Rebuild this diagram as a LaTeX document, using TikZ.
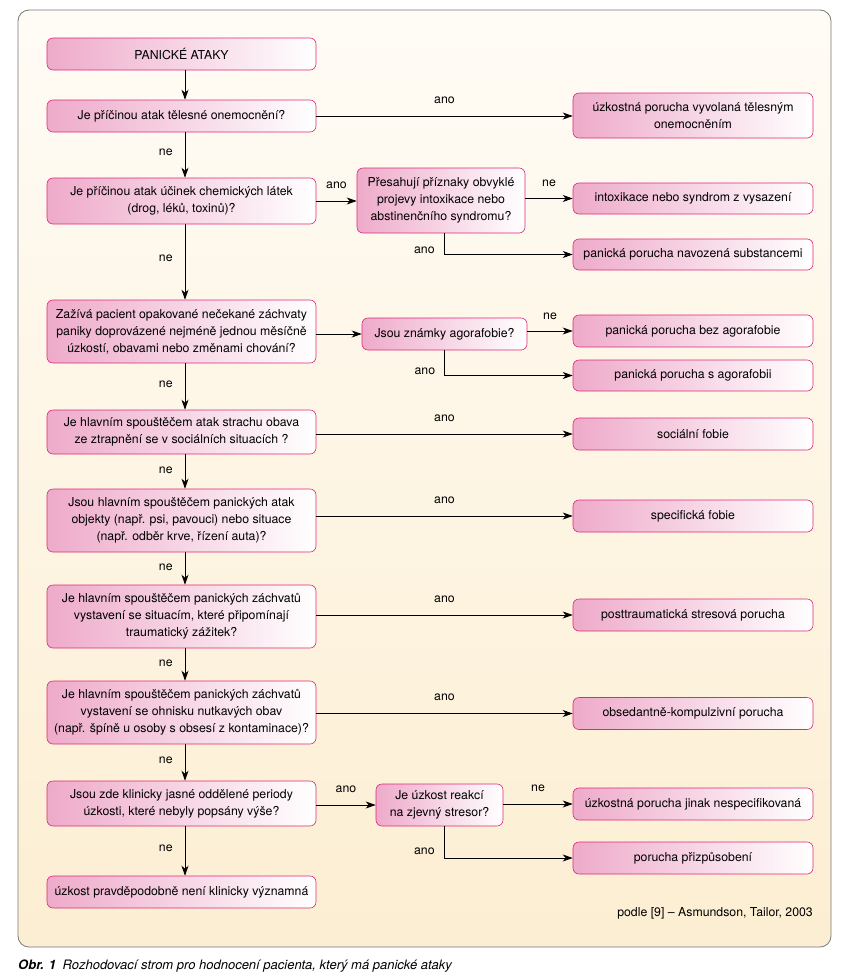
\documentclass[tikz,border=0pt]{standalone}
\usepackage{fontspec}
\setmainfont{TeX Gyre Heros}
\usetikzlibrary{arrows.meta,positioning}
\definecolor{boxpink}{RGB}{238,170,202}
\definecolor{boxline}{RGB}{222,40,120}
\definecolor{frametop}{RGB}{255,252,246}
\definecolor{framebot}{RGB}{252,238,210}
\definecolor{frameline}{RGB}{120,120,120}
\tikzset{
  box/.style={draw=boxline, line width=0.6pt, left color=boxpink, right color=white,
    rounded corners=6pt, align=center, inner sep=0pt,
    font={\fontsize{12.3pt}{17pt}\selectfont}},
  lbox/.style={box, minimum width=269pt},
  rbox/.style={box, minimum width=240pt},
  arr/.style={-{Stealth[length=10pt,width=7pt,inset=3pt]}, line width=0.8pt, black},
  lbl/.style={font={\fontsize{12.3pt}{15pt}\selectfont}, inner sep=0pt},
}
\begin{document}
\begin{tikzpicture}[x=1pt,y=-1pt]
\useasboundingbox (0,0) rectangle (855,980);
\fill[white] (0,0) rectangle (855,980);
\draw[frameline, line width=0.8pt, top color=frametop, bottom color=framebot, rounded corners=11pt]
  (18,10) rectangle (831,947);

% left column
\node[lbox, minimum height=32pt] (b1) at (181.5,54) {PANICKÉ ATAKY};
\node[lbox, minimum height=32pt] (b2) at (181.5,116) {Je příčinou atak tělesné onemocnění?};
\node[lbox, minimum height=46pt] (b3) at (181.5,201) {Je příčinou atak účinek chemických látek\\(drog, léků, toxinů)?};
\node[lbox, minimum height=63pt] (b4) at (181.5,331.5) {Zažívá pacient opakované nečekané záchvaty\\paniky doprovázené nejméně jednou měsíčně\\úzkostí, obavami nebo změnami chování?};
\node[lbox, minimum height=44pt] (b5) at (181.5,432) {Je hlavním spouštěčem atak strachu obava\\ze ztrapnění se v sociálních situacích ?};
\node[lbox, minimum height=63pt] (b6) at (181.5,520.5) {Jsou hlavním spouštěčem panických atak\\objekty (např. psi, pavouci) nebo situace\\(např. odběr krve, řízení auta)?};
\node[lbox, minimum height=63pt] (b7) at (181.5,616.5) {Je hlavním spouštěčem panických záchvatů\\vystavení se situacím, které připomínají\\traumatický zážitek?};
\node[lbox, minimum height=63pt] (b8) at (181.5,712.5) {Je hlavním spouštěčem panických záchvatů\\vystavení se ohnisku nutkavých obav\\(např. špíně u osoby s obsesí z kontaminace)?};
\node[lbox, minimum height=45pt] (b9) at (181.5,803.5) {Jsou zde klinicky jasné oddělené periody\\úzkosti, které nebyly popsány výše?};
\node[lbox, minimum height=32pt] (b10) at (181.5,892) {úzkost pravděpodobně není klinicky významná};

% middle column
\node[box, minimum width=168pt, minimum height=65pt] (m1) at (441,200.5) {Přesahují příznaky obvyklé\\projevy intoxikace nebo\\abstinenčního syndromu?};
\node[box, minimum width=165pt, minimum height=32pt] (m2) at (444.5,334) {Jsou známky agorafobie?};
\node[box, minimum width=127pt, minimum height=42pt] (m3) at (439.5,805) {Je úzkost reakcí\\na zjevný stresor?};

% right column
\node[rbox, minimum height=45pt] (r1) at (693,115.5) {úzkostná porucha vyvolaná tělesným\\onemocněním};
\node[rbox, minimum height=31pt] (r2) at (693,198.5) {intoxikace nebo syndrom z vysazení};
\node[rbox, minimum height=31pt] (r3) at (693,254.5) {panická porucha navozená substancemi};
\node[rbox, minimum height=32pt] (r4) at (693,331) {panická porucha bez agorafobie};
\node[rbox, minimum height=31pt] (r5) at (693,375.5) {panická porucha s agorafobii};
\node[rbox, minimum height=32pt] (r6) at (693,434) {sociální fobie};
\node[rbox, minimum height=32pt] (r7) at (693,516) {specifická fobie};
\node[rbox, minimum height=32pt] (r8) at (693,615) {posttraumatická stresová porucha};
\node[rbox, minimum height=32pt] (r9) at (693,713.5) {obsedantně-kompulzivní porucha};
\node[rbox, minimum height=32pt] (r10) at (693,804) {úzkostná porucha jinak nespecifikovaná};
\node[rbox, minimum height=32pt] (r11) at (693,858) {porucha přizpůsobení};

% vertical "ne" arrows
\draw[arr] ([xshift=3.5pt]b1.south) -- ([xshift=3.5pt]b1.south |- b2.north);
\foreach \a/\b in {b2/b3,b3/b4,b4/b5,b5/b6,b6/b7,b7/b8,b8/b9,b9/b10}{
  \draw[arr] ([xshift=3.5pt]\a.south) -- node[lbl, pos=0.45, left=12pt]{ne} ([xshift=3.5pt]\a.south |- \b.north);
}

% horizontal "ano" arrows to right column
\draw[arr] (b2.east) -- node[lbl, above=12pt]{ano} (r1.west |- b2.east);
\foreach \a/\b in {b5/r6,b6/r7,b7/r8,b8/r9}{
  \draw[arr] (\a.east |- \b.west) -- node[lbl, above=12pt]{ano} (\b.west);
}

% chemical branch
\draw[arr] (b3.east) -- node[lbl, above=12pt]{ano} (m1.west |- b3.east);
\draw[arr] (m1.east |- r2.west) -- node[lbl, above=11pt]{ne} (r2.west);
\draw[arr] ([xshift=3pt]m1.south) |- node[lbl, pos=0.5, anchor=south east, xshift=-9pt]{ano} (r3.west);

% agoraphobia branch
\draw[arr] (b4.east |- m2.west) -- (m2.west);
\draw[arr] (m2.east |- r4.west) -- node[lbl, above=11pt]{ne} (r4.west);
\draw[arr] ([xshift=0pt]m2.south) |- node[lbl, pos=0.5, anchor=south east, xshift=-9pt]{ano} (r5.west);

% stressor branch
\draw[arr] (b9.east |- m3.west) -- node[lbl, above=12pt]{ano} (m3.west);
\draw[arr] (m3.east |- r10.west) -- node[lbl, above=12pt]{ne} (r10.west);
\draw[arr] ([xshift=4.5pt]m3.south) |- node[lbl, pos=0.5, anchor=south east, xshift=-9pt, yshift=3pt]{ano} (r11.west);

% source and caption
\node[lbl, anchor=base east] (src) at (813,916) {podle [9] – Asmundson, Tailor, 2003};
\node[font={\fontsize{13pt}{15pt}\selectfont\itshape}, inner sep=0pt, anchor=base west] (cap) at (18,969)
  {\textbf{Obr. 1}\hspace{0.5em}Rozhodovací strom pro hodnocení pacienta, který má panické ataky};
\end{tikzpicture}
\end{document}
